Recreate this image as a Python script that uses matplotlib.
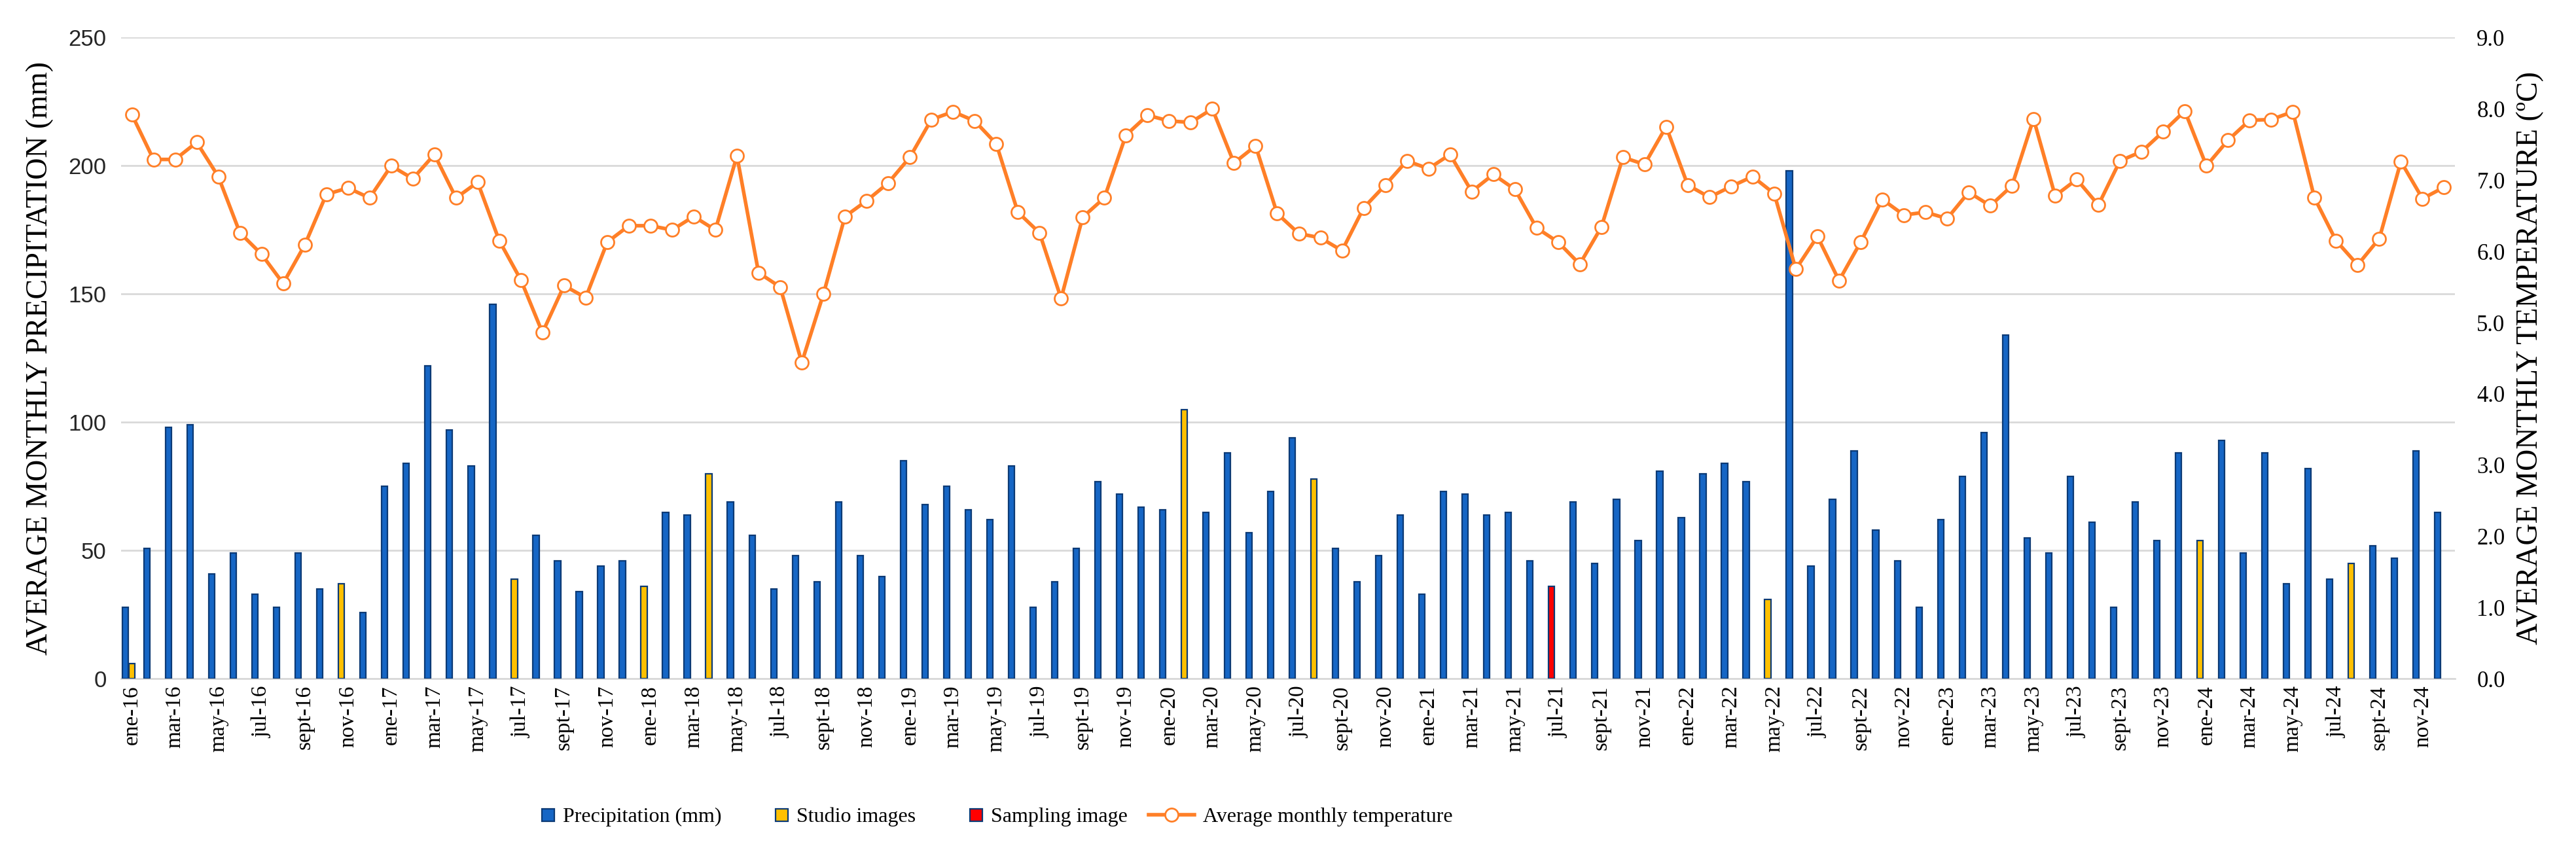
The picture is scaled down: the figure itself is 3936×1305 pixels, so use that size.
import matplotlib.pyplot as plt
from matplotlib.patches import Patch, Rectangle
from matplotlib.lines import Line2D
from matplotlib.legend_handler import HandlerPatch
import numpy as np

# month categories (Spanish abbreviations as in the source)
month_names = ["ene", "feb", "mar", "abr", "may", "jun", "jul", "ago", "sept", "oct", "nov", "dic"]
years = ["16", "17", "18", "19", "20", "21", "22", "23", "24"]
months = [f"{m}-{y}" for y in years for m in month_names]

# monthly precipitation (mm)
precipitation = [
    28, 51, 98, 99, 41, 49, 33, 28, 49, 35, 37, 26,      # 2016
    75, 84, 122, 97, 83, 146, 39, 56, 46, 34, 44, 46,    # 2017
    36, 65, 64, 80, 69, 56, 35, 48, 38, 69, 48, 40,      # 2018
    85, 68, 75, 66, 62, 83, 28, 38, 51, 77, 72, 67,      # 2019
    66, 105, 65, 88, 57, 73, 94, 78, 51, 38, 48, 64,     # 2020
    33, 73, 72, 64, 65, 46, 36, 69, 45, 70, 54, 81,      # 2021
    63, 80, 84, 77, 31, 198, 44, 70, 89, 58, 46, 28,     # 2022
    62, 79, 96, 134, 55, 49, 79, 61, 28, 69, 54, 88,     # 2023
    54, 93, 49, 88, 37, 82, 39, 45, 52, 47, 89, 65,      # 2024
]

# average monthly temperature (ºC)
temperature = [
    7.92, 7.29, 7.29, 7.53, 7.05, 6.26, 5.96, 5.55, 6.09, 6.80, 6.89, 6.75,
    7.20, 7.02, 7.36, 6.75, 6.97, 6.15, 5.60, 4.86, 5.52, 5.35, 6.13, 6.36,
    6.36, 6.30, 6.49, 6.30, 7.34, 5.70, 5.50, 4.44, 5.40, 6.49, 6.71, 6.96,
    7.32, 7.85, 7.96, 7.83, 7.51, 6.55, 6.26, 5.34, 6.48, 6.75, 7.63, 7.91,
    7.83, 7.81, 8.00, 7.24, 7.48, 6.53, 6.25, 6.19, 6.01, 6.61, 6.93, 7.27,
    7.16, 7.36, 6.84, 7.08, 6.87, 6.33, 6.13, 5.82, 6.34, 7.32, 7.22, 7.75,
    6.93, 6.76, 6.91, 7.05, 6.81, 5.75, 6.21, 5.59, 6.13, 6.73, 6.51, 6.55,
    6.46, 6.83, 6.64, 6.92, 7.86, 6.78, 7.01, 6.65, 7.27, 7.40, 7.68, 7.97,
    7.20, 7.56, 7.84, 7.85, 7.96, 6.75, 6.15, 5.81, 6.18, 7.26, 6.74, 6.90,
]

studio_months = ["nov-16", "jul-17", "ene-18", "abr-18", "feb-20", "ago-20", "may-22", "ene-24", "ago-24"]
sampling_months = ["jul-21"]
studio_extra = {"ene-16": 6}

BLUE = "#1666C5"
EDGE = "#0C3A75"
YELLOW = "#FFC000"
RED = "#FF0000"
ORANGE = "#FF7F27"
GRID = "#D9D9D9"

serif = ["Liberation Serif", "DejaVu Serif"]
narrow = ["Liberation Sans Narrow", "Liberation Sans", "DejaVu Sans"]

x = np.arange(len(months))
colors = []
for m in months:
    if m in sampling_months:
        colors.append(RED)
    elif m in studio_months:
        colors.append(YELLOW)
    else:
        colors.append(BLUE)

fig = plt.figure(figsize=(19.68, 6.525), dpi=200)
ax = fig.add_axes([0.047, 0.205, 0.906, 0.751])

bw = 0.28
ax.bar(x - 0.3, precipitation, width=bw, color=colors, edgecolor=EDGE, linewidth=0.8, zorder=3)
for m, v in studio_extra.items():
    ax.bar(months.index(m), v, width=bw, color=YELLOW, edgecolor=EDGE, linewidth=0.8, zorder=3)

ax.set_xlim(-0.5, len(months) - 0.5)
ax.set_ylim(0, 250)
ax.set_yticks(np.arange(0, 251, 50))
ax.yaxis.grid(True, color=GRID, linewidth=1.0, zorder=0)
ax.set_axisbelow(True)
for s in ["top", "right", "left"]:
    ax.spines[s].set_visible(False)
ax.spines["bottom"].set_color(GRID)
ax.spines["bottom"].set_linewidth(1.0)
ax.tick_params(axis="both", length=0)
ax.set_xticks(x[::2])
ax.set_xticklabels(months[::2], rotation=90, fontfamily=serif, fontsize=12)
for lab in ax.get_yticklabels():
    lab.set_fontfamily(narrow)
    lab.set_fontsize(12.5)
    lab.set_color("#262626")
ax.tick_params(axis="y", pad=8)
ax.set_ylabel("AVERAGE MONTHLY PRECIPITATION (mm)", fontfamily=serif, fontsize=16.5, labelpad=8)

ax2 = ax.twinx()
ax2.plot(x, temperature, color=ORANGE, linewidth=2.0, marker="o", markersize=7.2,
         markerfacecolor="white", markeredgecolor=ORANGE, markeredgewidth=1.0, zorder=4)
ax2.set_ylim(0, 9)
ax2.set_yticks(np.arange(0, 9.1, 1.0))
ax2.set_yticklabels([f"{t:.1f}" for t in np.arange(0, 9.1, 1.0)], fontfamily=serif, fontsize=12.5)
ax2.tick_params(axis="y", length=0, pad=12)
for s in ["top", "right", "left", "bottom"]:
    ax2.spines[s].set_visible(False)
ax2.set_ylabel("AVERAGE MONTHLY TEMPERATURE (ºC)", fontfamily=serif, fontsize=16.5, labelpad=6)


# small square legend keys placed right before the text, like the source
def square_key(legend, orig_handle, xdescent, ydescent, width, height, fontsize):
    s = height * 0.85
    return Rectangle((width - xdescent - s, -ydescent + (height - s) / 2), s, s)


handles = [
    Patch(facecolor=BLUE, edgecolor=EDGE, linewidth=0.8),
    Patch(facecolor=YELLOW, edgecolor=EDGE, linewidth=0.8),
    Patch(facecolor=RED, edgecolor=EDGE, linewidth=0.8),
    Line2D([0], [0], color=ORANGE, linewidth=2.0, marker="o", markersize=7.2,
           markerfacecolor="white", markeredgecolor=ORANGE, markeredgewidth=1.0),
]
labels = ["Precipitation (mm)", "Studio images", "Sampling image", "Average monthly temperature"]
fig.legend(handles, labels, loc="lower left", bbox_to_anchor=(0.19, 0.01), ncol=4,
           frameon=False, prop={"family": serif, "size": 11.5}, handlelength=2.2,
           handletextpad=0.4, columnspacing=1.0,
           handler_map={Patch: HandlerPatch(patch_func=square_key)})

fig.savefig("out.png", dpi=200)
